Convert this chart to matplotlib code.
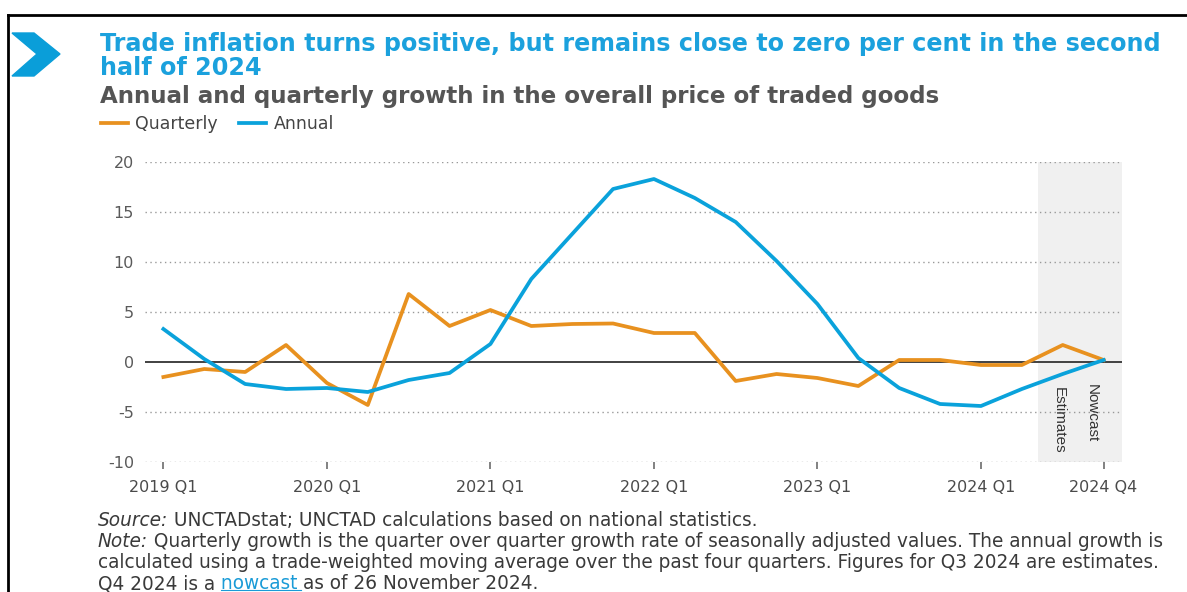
import numpy as np
import matplotlib.pyplot as plt
from matplotlib.patches import Polygon
from matplotlib.lines import Line2D

# data (per cent)
quarters = ["2019 Q1", "2019 Q2", "2019 Q3", "2019 Q4",
            "2020 Q1", "2020 Q2", "2020 Q3", "2020 Q4",
            "2021 Q1", "2021 Q2", "2021 Q3", "2021 Q4",
            "2022 Q1", "2022 Q2", "2022 Q3", "2022 Q4",
            "2023 Q1", "2023 Q2", "2023 Q3", "2023 Q4",
            "2024 Q1", "2024 Q2", "2024 Q3", "2024 Q4"]
quarterly = [-1.5, -0.7, -1.0, 1.7, -2.1, -4.3, 6.8, 3.6,
             5.2, 3.6, 3.8, 3.85, 2.9, 2.9, -1.9, -1.2,
             -1.6, -2.4, 0.2, 0.2, -0.3, -0.3, 1.7, 0.2]
annual = [3.3, 0.3, -2.2, -2.7, -2.6, -3.0, -1.8, -1.1,
          1.8, 8.3, 12.8, 17.3, 18.3, 16.4, 14.0, 10.1,
          5.8, 0.4, -2.6, -4.2, -4.4, -2.7, -1.2, 0.2]
tick_labels = ["2019 Q1", "2020 Q1", "2021 Q1", "2022 Q1", "2023 Q1", "2024 Q1", "2024 Q4"]
yticks = [-10, -5, 0, 5, 10, 15, 20]

ORANGE = "#E8911F"
BLUE = "#0AA2DB"
TITLE_BLUE = "#1BA1DD"
GREY = "#555555"

plt.rcParams['font.family'] = ['DejaVu Sans']

W, H = 1187, 592
fig = plt.figure(figsize=(W / 100, H / 100), dpi=100)
renderer = fig.canvas.get_renderer()

def fx(px):
    return px / W

def fy(py):
    return 1 - py / H

def fit(t, width_px):
    # scale font so the text spans the same width as in the reference
    w = t.get_window_extent(renderer).width
    t.set_fontsize(t.get_fontsize() * width_px / w)
    return t.get_fontsize()

ax = fig.add_axes([fx(145), fy(462), fx(1122) - fx(145), fy(162) - fy(462)])
x = np.arange(len(quarters))

ax.axvspan(21.4, 23.45, color="#F0F0F0", zorder=0, lw=0)
for v in yticks:
    if v == 0:
        ax.axhline(v, color="#333333", lw=1.3, zorder=1)
    else:
        ax.axhline(v, color="#999999", lw=1.0, ls=(0, (1, 2.5)), zorder=1)

ax.plot(x, quarterly, color=ORANGE, lw=2.7, zorder=3, label="Quarterly")
ax.plot(x, annual, color=BLUE, lw=2.7, zorder=3, label="Annual")

ax.text(21.9, -2.5, "Estimates", rotation=270, ha='center', va='top', fontsize=11,
        color="#333333", family='Liberation Sans')
ax.text(22.72, -2.2, "Nowcast", rotation=270, ha='center', va='top', fontsize=11,
        color="#333333", family='Liberation Sans')

ax.set_xlim(-0.45, 23.45)
ax.set_ylim(-10, 20)
ax.set_yticks(yticks)
ax.set_yticklabels([str(v) for v in yticks])
ax.set_xticks([quarters.index(t) for t in tick_labels])
ax.set_xticklabels(tick_labels)
for s in ax.spines.values():
    s.set_visible(False)
ax.tick_params(axis='y', length=0, pad=8, labelsize=11.5, labelcolor="#5a5a5a")
ax.tick_params(axis='x', length=5, width=1.3, color="#777777", direction='out', pad=8,
               labelsize=11.5, labelcolor="#4a4a4a")

# frame lines and chevron icon
fig.add_artist(Line2D([fx(8), 1], [fy(15), fy(15)], color="black", lw=2))
fig.add_artist(Line2D([fx(8), fx(8)], [fy(15), 0], color="black", lw=2))
chev = [(12, 33), (34, 33), (60, 54), (34, 76), (12, 76), (37, 54)]
fig.add_artist(Polygon([(fx(a), fy(b)) for a, b in chev], closed=True, color="#0A9ED9",
                       transform=fig.transFigure))

t1 = fig.text(fx(100), fy(44), "Trade inflation turns positive, but remains close to zero per cent in the second",
              fontsize=16, fontweight='bold', color=TITLE_BLUE, va='center')
size = fit(t1, 1063)
fig.text(fx(100), fy(68), "half of 2024", fontsize=size, fontweight='bold', color=TITLE_BLUE, va='center')
st = fig.text(fx(100), fy(96), "Annual and quarterly growth in the overall price of traded goods",
              fontsize=14, fontweight='bold', color=GREY, va='center')
fit(st, 844)

leg = fig.legend(loc='center left', bbox_to_anchor=(fx(85), fy(124)), ncol=2, frameon=False,
                 fontsize=12.5, handlelength=1.55, handletextpad=0.45, columnspacing=1.2)
for txt in leg.get_texts():
    txt.set_color("#444444")

# footnotes
foot = dict(fontsize=11, color="#3a3a3a", va='bottom')
ref = fig.text(fx(98), fy(572), "calculated using a trade-weighted moving average over the past four quarters. "
               "Figures for Q3 2024 are estimates.", **foot)
foot['fontsize'] = fit(ref, 1068)

t = fig.text(fx(98), fy(530), "Source:", style='italic', **foot)
ax.annotate(" UNCTADstat; UNCTAD calculations based on national statistics.", xy=(1, 0),
            xycoords=t, **foot)
n = fig.text(fx(98), fy(551), "Note:", style='italic', **foot)
ax.annotate(" Quarterly growth is the quarter over quarter growth rate of seasonally adjusted values. "
            "The annual growth is", xy=(1, 0), xycoords=n, **foot)
q = fig.text(fx(98), fy(593), "Q4 2024 is a ", **foot)
link = ax.annotate("nowcast ", xy=(1, 0), xycoords=q, **{**foot, 'color': "#1A9BD7"})
ax.annotate("as of 26 November 2024.", xy=(1, 0), xycoords=link, **foot)

fig.canvas.draw()
bb = link.get_window_extent()
fig.add_artist(Line2D([bb.x0 / W, (bb.x1 - 2) / W], [(bb.y0 + 3) / H] * 2, color="#1A9BD7", lw=0.8))

fig.savefig("out.png", dpi=100)
